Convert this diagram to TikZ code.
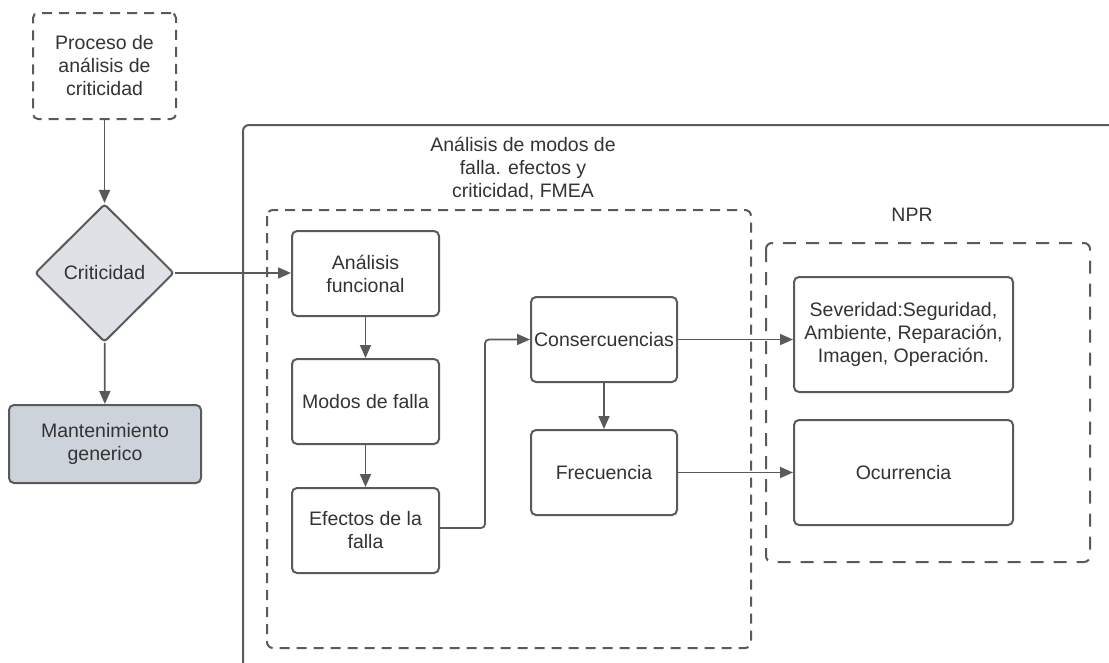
\documentclass[tikz,border=0pt]{standalone}
\usepackage{fontspec}
\setmainfont{Liberation Sans}
\usetikzlibrary{shapes.geometric, arrows.meta, positioning}
\definecolor{linea}{HTML}{5A5A5A}
\definecolor{texto}{HTML}{333333}
\definecolor{rombo}{HTML}{DEE1E6}
\definecolor{bloque}{HTML}{CDD3DB}

\tikzset{
  caja/.style={draw=linea, line width=2pt, rounded corners=5pt, fill=white, text=texto,
    align=center, minimum width=147pt, minimum height=85pt, inner sep=1pt},
  grupo/.style={draw=linea, line width=2pt, rounded corners=6pt, dash pattern=on 10pt off 7pt},
  flecha/.style={draw=linea, line width=1.8pt, -{Triangle[length=13pt,width=11pt]}},
  rotulo/.style={text=texto, align=center, inner sep=0pt},
}

\begin{document}
\begin{tikzpicture}[x=1pt, y=-1pt, font=\fontsize{19.5}{23}\selectfont]
\useasboundingbox (0,0) rectangle (1109,662);
\clip (0,0) rectangle (1109,662);

% Marco general (cortado por el borde)
\draw[draw=linea, line width=2pt, rounded corners=6pt] (243,700) |- (1150,125);
\node[rotulo] (titulo) at (523,169) {Análisis de modos de\\falla. efectos y\\criticidad, FMEA};
\node[rotulo] (npr) at (912,215) {NPR};

% Grupos punteados
\draw[grupo] (267,210) rectangle (751,648);
\draw[grupo, dash pattern=on 13pt off 10pt] (766,243) rectangle (1090,562);

% Columna izquierda
\node[caja, dash pattern=on 10pt off 7pt, minimum width=143pt, minimum height=106pt] (proceso) at (104.5,66)
  {Proceso de\\análisis de\\criticidad};
\node[diamond, draw=linea, line width=2pt, rounded corners=3pt, fill=rombo, text=texto,
  minimum width=139pt, minimum height=138pt, inner sep=0pt] (criticidad) at (104.5,273) {Criticidad};
\node[caja, fill=bloque, minimum width=192pt, minimum height=78pt] (mantenimiento) at (105,444)
  {Mantenimiento\\generico};

% FMEA
\node[caja] (funcional) at (365.5,273.5) {Análisis\\funcional};
\node[caja] (modos) at (365.5,401.5) {Modos de falla};
\node[caja] (efectos) at (365.5,530.5) {Efectos de la\\falla};
\node[caja, minimum width=146pt] (consec) at (604,339.5) {Consercuencias};
\node[caja, minimum width=146pt] (frecuencia) at (604,472.5) {Frecuencia};

% NPR
\node[caja, minimum width=219pt, minimum height=115pt] (severidad) at (903.5,334.5)
  {Severidad:Seguridad,\\Ambiente, Reparación,\\Imagen, Operación.};
\node[caja, minimum width=219pt, minimum height=105pt] (ocurrencia) at (903.5,472.5) {Ocurrencia};

% Conectores
\draw[flecha] (proceso) -- (criticidad);
\draw[flecha] (criticidad) -- (mantenimiento);
\draw[flecha] (criticidad.east) -- (criticidad.east -| funcional.west);
\draw[flecha] (funcional) -- (modos);
\draw[flecha] (modos) -- (efectos);
\draw[flecha, rounded corners=4pt] ([yshift=2.5pt]efectos.east) -- ++(45,0) |- (consec.west);
\draw[flecha] (consec) -- (frecuencia);
\draw[flecha] (consec.east) -- (consec.east -| severidad.west);
\draw[flecha] (frecuencia) -- (ocurrencia);
\end{tikzpicture}
\end{document}
